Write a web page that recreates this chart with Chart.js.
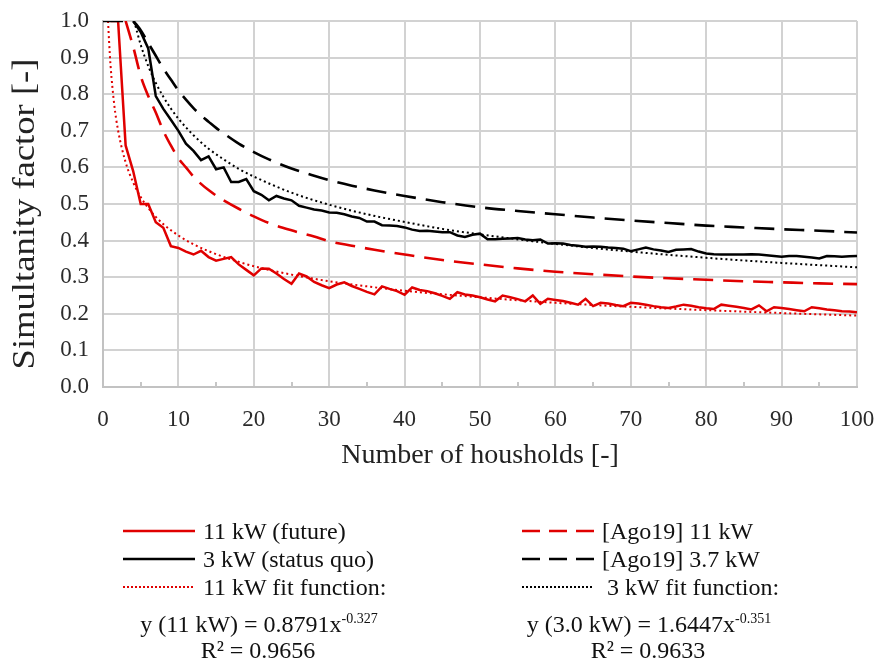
<!DOCTYPE html>
<html>
<head>
<meta charset="utf-8">
<script src="https://cdn.jsdelivr.net/npm/chart.js@4.4.0/dist/chart.umd.min.js"></script>
<style>
    body { margin: 0; background: #fff; }
    .wrap { position: relative; width: 878px; height: 666px; font-family: 'Liberation Serif', 'Times New Roman', serif; color: #111; }
    #chart { position: absolute; left: 0; top: 0; }
    .leg { position: absolute; font-size: 24px; line-height: 28px; white-space: nowrap; transform: translateY(-50%); }
    .eq { position: absolute; font-size: 24px; white-space: nowrap; transform: translate(-50%, -50%); line-height: 26px; }
    .eq sup { font-size: 14px; vertical-align: 9px; line-height: 0; }
</style>
</head>
<body>
<div class="wrap">
    <canvas id="chart" width="878" height="490"></canvas>
    <svg width="878" height="666" style="position:absolute;left:0;top:0">
        <!-- legend line samples -->
        <line x1="123" y1="531" x2="195" y2="531" stroke="#e00000" stroke-width="2.5"/>
        <line x1="123" y1="559" x2="195" y2="559" stroke="#000" stroke-width="2.5"/>
        <line x1="123" y1="587" x2="195" y2="587" stroke="#e00000" stroke-width="2" stroke-dasharray="2 2"/>
        <line x1="522" y1="531" x2="594" y2="531" stroke="#e00000" stroke-width="2.5" stroke-dasharray="18 9"/>
        <line x1="522" y1="559" x2="594" y2="559" stroke="#000" stroke-width="2.5" stroke-dasharray="18 9"/>
        <line x1="522" y1="587" x2="594" y2="587" stroke="#000" stroke-width="2" stroke-dasharray="2 2"/>
    </svg>
    <div class="leg" style="left:203px;top:531px">11 kW (future)</div>
    <div class="leg" style="left:203px;top:559px">3 kW (status quo)</div>
    <div class="leg" style="left:203px;top:587px">11 kW fit function:</div>
    <div class="leg" style="left:602px;top:531px">[Ago19] 11 kW</div>
    <div class="leg" style="left:602px;top:559px">[Ago19] 3.7 kW</div>
    <div class="leg" style="left:607px;top:587px">3 kW fit function:</div>

    <div class="eq" style="left:259px;top:624px">y (11 kW) = 0.8791x<sup>-0.327</sup></div>
    <div class="eq" style="left:258px;top:650px">R² = 0.9656</div>
    <div class="eq" style="left:649px;top:624px">y (3.0 kW) = 1.6447x<sup>-0.351</sup></div>
    <div class="eq" style="left:648px;top:650px">R² = 0.9633</div>
</div>

<script>
// simultanity factor, households 1..100
const future11kW = [
    1.0, 1.0, 0.66, 0.59, 0.50, 0.50, 0.45, 0.435, 0.385, 0.38,
    0.37, 0.362, 0.372, 0.355, 0.345, 0.35, 0.355, 0.335, 0.32, 0.305,
    0.324, 0.323, 0.31, 0.295, 0.282, 0.31, 0.302, 0.287, 0.278, 0.27,
    0.28, 0.286, 0.276, 0.268, 0.26, 0.253, 0.275, 0.268, 0.262, 0.252,
    0.272, 0.265, 0.262, 0.256, 0.249, 0.241, 0.259, 0.253, 0.25, 0.245,
    0.239, 0.234, 0.25, 0.245, 0.24, 0.234, 0.25, 0.227, 0.241, 0.238,
    0.235, 0.23, 0.225, 0.241, 0.221, 0.23, 0.228, 0.224, 0.221, 0.23,
    0.228, 0.225, 0.221, 0.218, 0.216, 0.22, 0.225, 0.222, 0.218, 0.215,
    0.213, 0.225, 0.222, 0.219, 0.216, 0.212, 0.223, 0.207, 0.218, 0.216,
    0.213, 0.21, 0.207, 0.218, 0.215, 0.212, 0.21, 0.207, 0.206, 0.204
];
const statusQuo3kW = [
    null, null, null, 1.0, 0.97, 0.925, 0.795, 0.76, 0.73, 0.70,
    0.665, 0.645, 0.62, 0.63, 0.595, 0.60, 0.56, 0.56, 0.568, 0.535,
    0.525, 0.51, 0.522, 0.515, 0.51, 0.495, 0.49, 0.485, 0.482, 0.477,
    0.476, 0.472, 0.466, 0.462, 0.452, 0.452, 0.442, 0.441, 0.44, 0.436,
    0.43, 0.426, 0.427, 0.425, 0.423, 0.423, 0.414, 0.41, 0.416, 0.419,
    0.404, 0.404, 0.405, 0.406, 0.407, 0.403, 0.401, 0.403, 0.392, 0.393,
    0.392, 0.388, 0.386, 0.383, 0.384, 0.383, 0.381, 0.38, 0.378, 0.371,
    0.376, 0.381, 0.376, 0.373, 0.369, 0.375, 0.376, 0.377, 0.37, 0.365,
    0.363, 0.362, 0.362, 0.362, 0.362, 0.363, 0.362, 0.36, 0.358, 0.356,
    0.358, 0.358, 0.356, 0.354, 0.351, 0.358, 0.357, 0.356, 0.357, 0.358
];

// [Ago19] reference curves
const ago19_37kW_x = [0, 3, 4, 5, 6, 7, 8, 9, 10, 11, 12, 13, 14, 15, 16, 18, 20, 22, 25, 28, 30, 33, 36, 40, 45, 50, 55, 60, 65, 70, 75, 80, 85, 90, 95, 100];
const ago19_37kW_y = [1, 1, 0.998, 0.975, 0.94, 0.905, 0.87, 0.84, 0.81, 0.785, 0.762, 0.742, 0.725, 0.708, 0.693, 0.665, 0.642, 0.622, 0.597, 0.577, 0.565, 0.55, 0.537, 0.522, 0.505, 0.491, 0.481, 0.472, 0.463, 0.455, 0.448, 0.441, 0.436, 0.431, 0.427, 0.422];
const ago19_11kW_x = [3, 4, 5, 6, 7, 8, 9, 10, 11, 12, 13, 14, 15, 16, 18, 20, 22, 25, 28, 30, 33, 36, 40, 45, 50, 55, 60, 65, 70, 75, 80, 85, 90, 95, 100];
const ago19_11kW_y = [1.0, 0.93, 0.85, 0.795, 0.75, 0.70, 0.66, 0.625, 0.60, 0.575, 0.555, 0.538, 0.523, 0.51, 0.487, 0.466, 0.448, 0.428, 0.411, 0.398, 0.386, 0.375, 0.362, 0.347, 0.335, 0.324, 0.315, 0.308, 0.302, 0.297, 0.293, 0.289, 0.286, 0.283, 0.281];

// fit functions
const fit11kW_x = [0.67, 0.8, 1, 1.5, 2, 3, 4, 5, 6, 7, 8, 10, 12, 15, 20, 25, 30, 35, 40, 50, 60, 70, 80, 90, 100];
const fit11kW_y = [1.0, 0.946, 0.879, 0.770, 0.701, 0.614, 0.559, 0.519, 0.489, 0.465, 0.445, 0.414, 0.390, 0.363, 0.330, 0.307, 0.289, 0.275, 0.263, 0.245, 0.230, 0.219, 0.210, 0.202, 0.195];
const fit3kW_x = [4.13, 5, 6, 7, 8, 9, 10, 12, 14, 16, 18, 20, 25, 30, 35, 40, 45, 50, 60, 70, 80, 90, 100];
const fit3kW_y = [1.0, 0.935, 0.877, 0.831, 0.793, 0.761, 0.733, 0.688, 0.651, 0.622, 0.596, 0.575, 0.531, 0.498, 0.472, 0.451, 0.432, 0.417, 0.391, 0.370, 0.353, 0.339, 0.327];

const RED = '#e00000';
const BLACK = '#000000';
const serif = "'Liberation Serif', 'Times New Roman', serif";

function pairs(xs, ys) {
    return xs.map((x, i) => ({ x: x, y: ys[i] }));
}
function byHousehold(ys) {
    return ys.map((y, i) => ({ x: i + 1, y: y }));
}

// kleine Striche nach innen bei 5, 15, 25 ...
const minorTicks = {
    id: 'minorTicks',
    afterDatasetsDraw(chart) {
        const xs = chart.scales.x;
        const ctx = chart.ctx;
        const bottom = chart.chartArea.bottom;
        ctx.save();
        ctx.strokeStyle = '#c6c6c6';
        ctx.lineWidth = 2;
        for (let v = xs.min + 5; v < xs.max; v += 10) {
            const px = Math.round(xs.getPixelForValue(v));
            ctx.beginPath();
            ctx.moveTo(px, bottom);
            ctx.lineTo(px, bottom - 5);
            ctx.stroke();
        }
        ctx.restore();
    }
};

// y-Achsentitel, im Original etwas gestreckt
const yTitle = {
    id: 'yTitle',
    afterDraw(chart) {
        const ctx = chart.ctx;
        ctx.save();
        ctx.translate(26, 214);
        ctx.rotate(-Math.PI / 2);
        ctx.scale(1.18, 1);
        ctx.font = '31px ' + serif;
        ctx.fillStyle = '#222';
        ctx.textAlign = 'center';
        ctx.textBaseline = 'middle';
        ctx.fillText('Simultanity factor [-]', 0, 0);
        ctx.restore();
    }
};

new Chart(document.getElementById('chart'), {
    type: 'line',
    data: {
        datasets: [
            {
                label: '[Ago19] 3.7 kW',
                data: pairs(ago19_37kW_x, ago19_37kW_y),
                borderColor: BLACK,
                borderWidth: 2.6,
                borderDash: [20, 10],
                cubicInterpolationMode: 'monotone'
            },
            {
                label: '11 kW (future)',
                data: byHousehold(future11kW),
                borderColor: RED,
                borderWidth: 2.5
            },
            {
                label: '3 kW (status quo)',
                data: byHousehold(statusQuo3kW),
                borderColor: BLACK,
                borderWidth: 2.5
            },
            {
                label: '[Ago19] 11 kW',
                data: pairs(ago19_11kW_x, ago19_11kW_y),
                borderColor: RED,
                borderWidth: 2.6,
                borderDash: [20, 10],
                cubicInterpolationMode: 'monotone'
            },
            {
                label: '11 kW fit function',
                data: pairs(fit11kW_x, fit11kW_y),
                borderColor: RED,
                borderWidth: 2,
                borderDash: [2, 3],
                cubicInterpolationMode: 'monotone'
            },
            {
                label: '3 kW fit function',
                data: pairs(fit3kW_x, fit3kW_y),
                borderColor: BLACK,
                borderWidth: 2,
                borderDash: [2, 3],
                cubicInterpolationMode: 'monotone'
            }
        ]
    },
    options: {
        responsive: false,
        animation: false,
        devicePixelRatio: 1,
        layout: {
            padding: { left: 0, top: 21, right: 21, bottom: 0 }
        },
        elements: {
            point: { radius: 0 },
            line: { fill: false, tension: 0 }
        },
        plugins: {
            legend: { display: false },
            tooltip: { enabled: false }
        },
        scales: {
            x: {
                type: 'linear',
                min: 0,
                max: 100,
                ticks: {
                    stepSize: 10,
                    color: '#2b2b2b',
                    padding: 19,
                    maxRotation: 0,
                    font: { family: serif, size: 23 }
                },
                grid: {
                    color: '#d2d2d2',
                    lineWidth: 2,
                    drawTicks: false
                },
                border: { color: '#c2c2c2', width: 2 },
                title: {
                    display: true,
                    text: 'Number of housholds [-]',
                    color: '#222',
                    font: { family: serif, size: 28 },
                    padding: { top: 0, bottom: 18 }
                },
                afterFit(scale) {
                    scale.height = 103;
                    scale.paddingLeft = 0;
                    scale.paddingRight = 0;
                }
            },
            y: {
                min: 0,
                max: 1,
                ticks: {
                    stepSize: 0.05,
                    color: '#2b2b2b',
                    padding: 14,
                    font: { family: serif, size: 23 },
                    callback(v) {
                        return Math.round(v * 100) % 10 === 0 ? v.toFixed(1) : '';
                    }
                },
                grid: {
                    drawTicks: false,
                    lineWidth: 2,
                    color(ctx) {
                        const v = Math.round(ctx.tick.value * 100);
                        return v % 10 === 0 ? '#d2d2d2' : '#e6e6e6';
                    }
                },
                border: { color: '#c2c2c2', width: 2 },
                afterFit(scale) {
                    scale.width = 103;
                    scale.paddingTop = 0;
                    scale.paddingBottom = 0;
                }
            }
        }
    },
    plugins: [minorTicks, yTitle]
});
</script>
</body>
</html>
